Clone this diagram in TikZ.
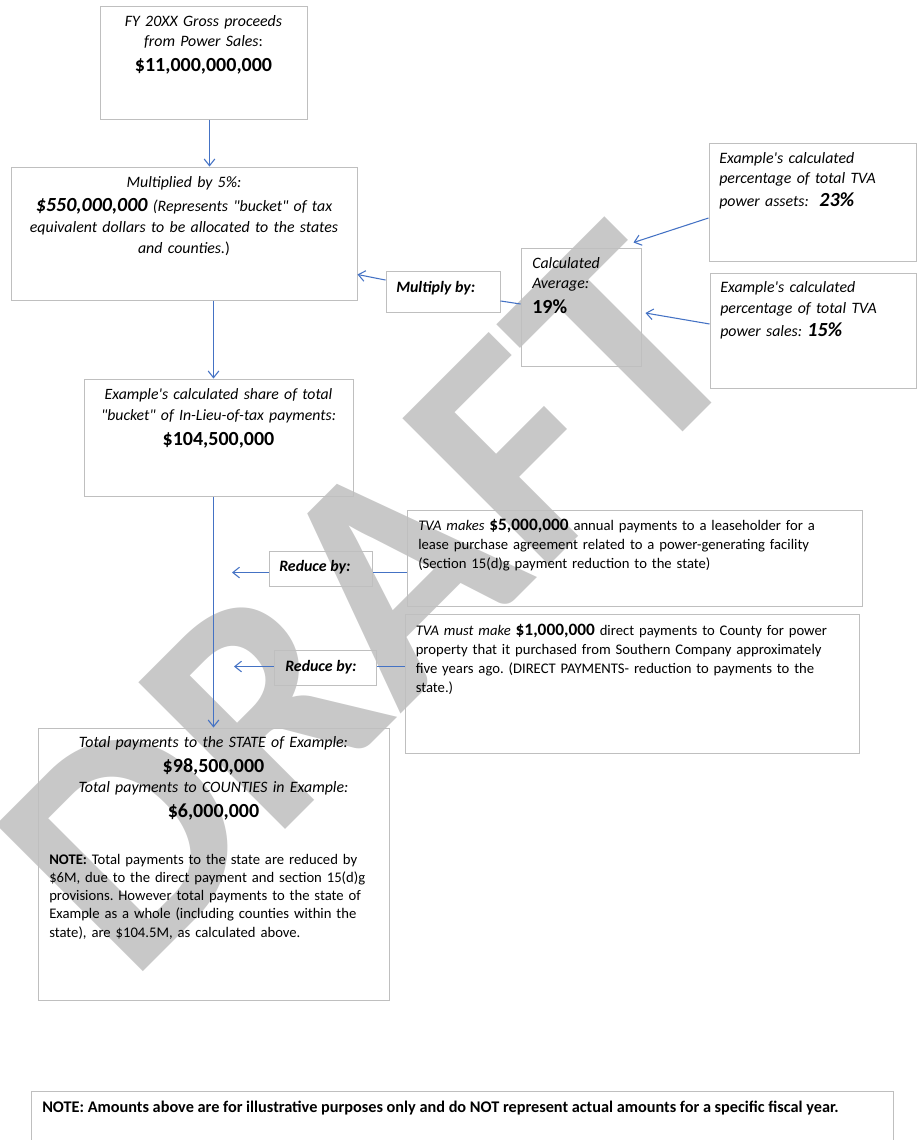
\documentclass[tikz,border=0pt]{standalone}
\usepackage{fontspec}
\setmainfont{Carlito}
\usetikzlibrary{arrows.meta,fit}
\definecolor{blue1}{HTML}{4472C4}
\definecolor{gray1}{HTML}{BFBFBF}
\definecolor{gray2}{HTML}{C8C8C8}
\newcommand{\amount}[1]{{\fontsize{15}{18.5}\selectfont\bfseries #1}}
\newcommand{\smallamount}[1]{{\fontsize{13}{14.25}\selectfont\bfseries #1}}
\frenchspacing

\begin{document}
\begin{tikzpicture}[x=0.75pt, y=-0.75pt, inner sep=0pt,
  frame/.style={draw=gray1, line width=0.75pt, inner sep=0pt},
  boxtext/.style={inner sep=0pt, font=\fontsize{11.9}{15}\selectfont},
  arr/.style={blue1, line width=0.8pt, -{Straight Barb[length=5pt, width=8pt]}},
  link/.style={blue1, line width=0.8pt}]
\useasboundingbox (0,0) rectangle (917,1140);

\node[anchor=base west, rotate=45, text=gray2, font=\fontsize{240}{240}\selectfont\bfseries] (draft) at (130,985) {DRAFT};

\node[frame, fit={(100,6) (307,119)}] (gross) {};
\node[frame, fit={(11,167) (357,300)}] (bucket) {};
\node[frame, fit={(521,248) (641,366)}] (average) {};
\node[frame, fit={(386,271) (500,312)}] (multiply) {};
\node[frame, fit={(709,143) (916,261)}] (assets) {};
\node[frame, fit={(710,273) (916,388)}] (sales) {};
\node[frame, fit={(84,379) (353,496)}] (share) {};
\node[frame, fit={(407,510) (862,606)}] (lease) {};
\node[frame, fit={(269,551) (372,586)}] (reduceA) {};
\node[frame, fit={(405,614) (859,753)}] (direct) {};
\node[frame, fit={(274,650) (376,685)}] (reduceB) {};
\node[frame, fit={(38,728) (389,1000)}] (total) {};
\node[frame, fit={(31,1091) (893,1150)}] (disclaimer) {};

\node[boxtext, anchor=north, text width=200pt, align=center] (grosstext) at (203.5,15.2)
  {{\itshape FY 20XX Gross proceeds\\ from Power Sales}:\par \amount{\$11,000,000,000\par}};
\node[boxtext, anchor=north, text width=250pt, align=center, font=\fontsize{11.9}{15.75}\selectfont] (buckettext) at (184,176.2)
  {\itshape Multiplied by 5\%:\\[2.25pt] \amount{\$550,000,000} (Represents \textquotedbl bucket\textquotedbl\ of tax\\ equivalent dollars to be allocated to the states\\ and counties.\textup{)}\par};
\node[boxtext, anchor=north west, text width=80pt, align=left] (averagetext) at (532,257.2)
  {{\itshape Calculated\\ Average:}\par \amount{19\%\par}};
\node[boxtext, anchor=west] (multiplytext) at (396,288) {\bfseries\itshape Multiply by:};
\node[boxtext, anchor=north west, text width=150pt, align=left] (assetstext) at (719,152.2)
  {\itshape Example\textquotesingle s calculated\\ percentage of total TVA\\[2.5pt] power assets:\ \ \amount{23\%}\par};
\node[boxtext, anchor=north west, text width=150pt, align=left, font=\fontsize{11.9}{15.75}\selectfont] (salestext) at (720,281.2)
  {\itshape Example\textquotesingle s calculated\\ percentage of total TVA\\[1.5pt] power sales: \amount{15\%}\par};
\node[boxtext, anchor=north, text width=220pt, align=center, font=\fontsize{11.8}{15.75}\selectfont] (sharetext) at (218.5,388.2)
  {{\itshape Example\textquotesingle s calculated share of total\\ \textquotedbl bucket\textquotedbl\ of In-Lieu-of-tax payments:}\par \amount{\$104,500,000\par}};
\node[boxtext, anchor=north west, text width=330pt, align=left, font=\fontsize{11}{14.25}\selectfont] (leasetext) at (418,518.5)
  {{\itshape TVA makes} \smallamount{\$5,000,000} annual payments to a leaseholder for a\\ lease purchase agreement related to a power-generating facility\\ (Section 15(d)g payment reduction to the state)\par};
\node[boxtext, anchor=west] (reduceAtext) at (279,567) {\bfseries\itshape Reduce by:};
\node[boxtext, anchor=north west, text width=330pt, align=left, font=\fontsize{11}{14.25}\selectfont] (directtext) at (415.5,623.5)
  {{\itshape TVA must make} \smallamount{\$1,000,000} direct payments to County for power\\ property that it purchased from Southern Company approximately\\ five years ago. (DIRECT PAYMENTS- reduction to payments to the\\ state.)\par};
\node[boxtext, anchor=west] (reduceBtext) at (285,667) {\bfseries\itshape Reduce by:};
\node[boxtext, anchor=north, text width=250pt, align=center, font=\fontsize{11.9}{15.2}\selectfont] (totaltext) at (213.5,736.2)
  {{\itshape Total payments to the STATE of Example:\par} \amount{\$98,500,000\par}
   {\itshape Total payments to COUNTIES in Example:\par} \amount{\$6,000,000\par}};
\node[boxtext, anchor=north west, text width=250pt, align=left, font=\fontsize{11}{13.7}\selectfont] (notetext) at (49,853.7)
  {\textbf{NOTE:} Total payments to the state are reduced by\\ \$6M, due to the direct payment and section 15(d)g\\ provisions. However total payments to the state of\\ Example as a whole (including counties within the\\ state), are \$104.5M, as calculated above.\par};
\node[boxtext, anchor=west, font=\fontsize{12.2}{15}\selectfont] (disclaimertext) at (42,1108)
  {\bfseries NOTE: Amounts above are for illustrative purposes only and do NOT represent actual amounts for a specific fiscal year.};

\coordinate (stateA) at (232,572.5);
\coordinate (stateB) at (234,666.5);

\draw[arr] ([xshift=4.5pt]gross.south) -- ([xshift=4.5pt]gross.south |- bucket.north);
\draw[arr] ([xshift=-3.75pt]share.north |- bucket.south) -- ([xshift=-3.75pt]share.north);
\draw[arr] (total.north |- share.south) -- (total.north);
\draw[arr] ([yshift=8.6pt]multiply.west) -- ([yshift=-30.75pt]bucket.east);
\draw[link] ([yshift=2.25pt]average.west) -- ([yshift=-7.1pt]multiply.east);
\draw[arr] ([yshift=-12pt]assets.west) -- ([xshift=-6pt, yshift=3.75pt]average.north east);
\draw[arr] ([yshift=4.9pt]sales.west) -- ([xshift=3pt, yshift=-4.5pt]average.east);
\draw[link] (lease.west |- stateA) -- (reduceA.east |- stateA);
\draw[arr] (reduceA.west |- stateA) -- (stateA);
\draw[link] (direct.west |- stateB) -- (reduceB.east |- stateB);
\draw[arr] (reduceB.west |- stateB) -- (stateB);
\end{tikzpicture}
\end{document}
